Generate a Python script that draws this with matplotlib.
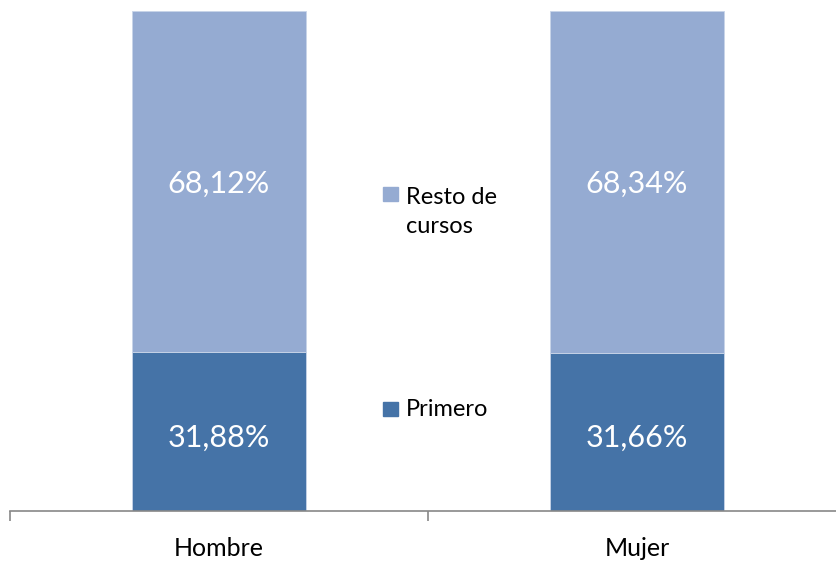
import matplotlib.pyplot as plt
from matplotlib import patches
import numpy as np

categories = ['Hombre', 'Mujer']
primero = [31.88, 31.66]
resto = [68.12, 68.34]
series_names = ['Primero', 'Resto de\ncursos']
labels_primero = ['31,88%', '31,66%']
labels_resto = ['68,12%', '68,34%']

c_dark = '#4573A7'
c_light = '#95ABD2'
font = 'Lato'

W, H = 836, 566
fig = plt.figure(figsize=(W / 100, H / 100), dpi=100)
ax = fig.add_axes([10 / W, 55 / H, 836 / W, 500 / H])

x = np.arange(len(categories))
p = np.array(primero) / 100
r = np.array(resto) / 100
bw = 0.416
ax.bar(x, p, width=bw, color=c_dark, edgecolor='#c8d4e8', linewidth=0.6)
ax.bar(x, r, width=bw, bottom=p, color=c_light, edgecolor='#c8d4e8', linewidth=0.6)

for i in range(len(categories)):
    ax.text(x[i], p[i] / 2 - 0.012, labels_primero[i], ha='center', va='center',
            color='white', fontsize=22, family=font)
    ax.text(x[i], p[i] + r[i] / 2 - 0.004, labels_resto[i], ha='center', va='center',
            color='white', fontsize=22, family=font)

ax.set_xlim(-0.5, 1.5)
ax.set_ylim(0, 1)
for s in ['top', 'right', 'left']:
    ax.spines[s].set_visible(False)
ax.spines['bottom'].set_color('#888888')
ax.spines['bottom'].set_linewidth(1.2)
ax.set_yticks([])
ax.set_xticks(x)
ax.set_xticklabels(categories, fontsize=18, family=font)
ax.tick_params(axis='x', which='major', length=0, pad=19)
ax.set_xticks([-0.5, 0.5, 1.5], minor=True)
ax.tick_params(axis='x', which='minor', length=7, width=1.2, color='#888888')

# legend, drawn in the gap between the bars
fig.patches.append(patches.Rectangle((383 / W, 1 - 201 / H), 15 / W, 14 / H,
                                     transform=fig.transFigure, color=c_light))
fig.text(406 / W, 1 - 212 / H, series_names[1], fontsize=17, family=font,
         va='center', ha='left', linespacing=1.45)
fig.patches.append(patches.Rectangle((383 / W, 1 - 416 / H), 15 / W, 14 / H,
                                     transform=fig.transFigure, color=c_dark))
fig.text(406 / W, 1 - 410 / H, series_names[0], fontsize=17, family=font,
         va='center', ha='left')

fig.savefig('out.png', dpi=100)
